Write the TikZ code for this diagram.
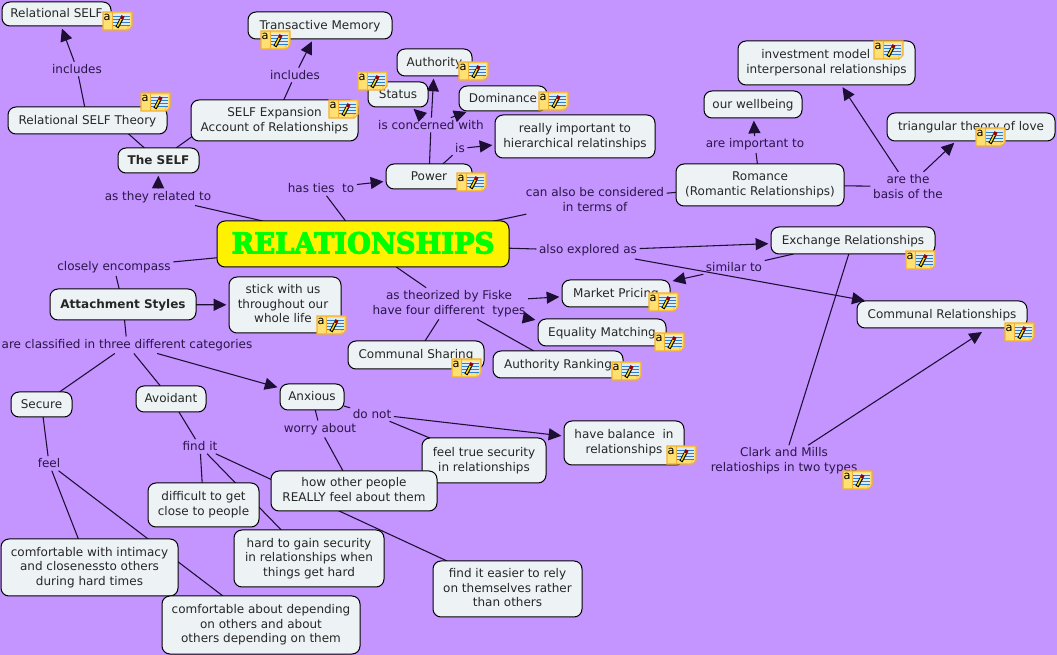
\documentclass[tikz,border=0pt]{standalone}
\usepackage{fontspec}
\usepackage{graphicx}
\setmainfont{DejaVu Sans}
\newfontfamily\relfont[FakeBold=4]{DejaVu Serif Bold}
\usetikzlibrary{arrows.meta,backgrounds,calc}
\definecolor{bgp}{HTML}{C494FF}
\definecolor{boxf}{HTML}{EDF3F5}
\definecolor{lblc}{HTML}{2A1648}
\definecolor{linec}{HTML}{1C0F33}
\definecolor{noteyel}{HTML}{FFE070}
\definecolor{noteedge}{HTML}{F2B032}
\definecolor{notefold}{HTML}{FFF0B0}
\definecolor{noteblue}{HTML}{2F7FC8}
\definecolor{notepage}{HTML}{DCEBF5}
\tikzset{
  x=0.75pt,y=-0.75pt,
  every node/.style={font=\fontsize{9pt}{11pt}\selectfont,align=center},
  sz/.style 2 args={minimum width=#1*0.75pt,minimum height=#2*0.75pt},
  box/.style={draw=black,line width=0.75pt,fill=boxf,rounded corners=6pt,inner sep=0pt,outer sep=0pt,text=black!85,
    execute at begin node={\rule{0pt}{8pt}},execute at end node={\rule[-2pt]{0pt}{2pt}}},
  mbox/.style={box,execute at begin node={\rule{0pt}{10.5pt}}},
  lbl/.style={inner sep=0.5pt,outer sep=1.5pt,text=lblc},
  ln/.style={draw=linec,line width=0.8pt},
  arr/.style={ln,-{Triangle[length=9.5pt,width=9pt]},shorten >=2pt},
  pics/note/.style={code={
    \fill[fill=noteyel,draw=noteedge,line width=0.9pt] (0,0)--(29,0)--(29,14)--(25,18)--(0,18)--cycle;
    \fill[fill=notefold,draw=noteedge,line width=0.4pt] (25,18)--(25,14)--(29,14)--cycle;
    \draw[noteedge,line width=0.4pt] (9,0)--(9,18);
    \fill[fill=notepage] (10,2.5) rectangle (27,14);
    \foreach \yy in {4,7,10,13}{\draw[noteblue,line width=0.6pt] (10,\yy)--(27,\yy);}
    \draw[black,line width=2.6pt] (14,15.5)--(18.5,7);
    \draw[yellow!80!orange,line width=1.1pt] (14.4,14.5)--(18.3,7);
    \draw[red!60!black,line width=2.6pt] (18.5,7)--(20,4);
    \node[inner sep=0pt,font=\fontsize{8.5pt}{9pt}\selectfont,text=black] (-a) at (4,5.5) {a};
  }},
}
\begin{document}
\begin{tikzpicture}
\useasboundingbox (0,0) rectangle (1057,655);
% concepts
\node[box,sz={109}{24}] (rself) at (56.5,14) {Relational SELF};
\node[box,sz={144}{27}] (trans) at (320,25.5) {Transactive Memory};
\node[box,sz={159}{27}] (rtheory) at (87.5,120.5) {Relational SELF Theory};
\node[mbox,sz={167}{41}] (selfexp) at (274.5,120.5) {SELF Expansion\\Account of Relationships};
\node[box,sz={81}{25}] (theself) at (158.5,160.5) {\textbf{The SELF}};
\node[box,sz={60}{25}] (status) at (398,94.5) {Status};
\node[box,sz={75}{27}] (authority) at (434.5,62.5) {Authority};
\node[box,sz={88}{25}] (dominance) at (503,98.5) {Dominance};
\node[mbox,sz={160}{43}] (really) at (575,136.5) {really important to\\hierarchical relatinships};
\node[box,sz={86}{25}] (power) at (429,176.5) {Power};
\node[box,sz={98}{27}] (wellb) at (753,104.5) {our wellbeing};
\node[mbox,sz={177}{44}] (invest) at (826.5,63) {investment model\rule{16pt}{0pt}\\interpersonal relationships};
\node[box,sz={168}{28}] (triang) at (971,127) {triangular theory of love};
\node[mbox,sz={168}{42}] (romance) at (760,185) {Romance\\(Romantic Relationships)};
\node[box,sz={292}{46},fill=yellow,execute at begin node={},execute at end node={}] (rel) at (363,244) {\resizebox{197pt}{16pt}{\color{green}\relfont RELATIONSHIPS}};
\node[box,sz={164}{27}] (exch) at (853,240.5) {Exchange Relationships};
\node[box,sz={170}{27}] (commrel) at (942,314.5) {Communal Relationships};
\node[box,sz={108}{27}] (market) at (616,293.5) {Market Pricing};
\node[box,sz={128}{27}] (equality) at (602,332.5) {Equality Matching};
\node[box,sz={136}{28}] (commsh) at (416,355) {Communal Sharing};
\node[box,sz={130}{27}] (authrank) at (558,364.5) {Authority Ranking};
\node[box,sz={146}{31}] (attach) at (123,304.5) {\textbf{Attachment Styles}};
\node[mbox,sz={112}{56}] (stick) at (285,305) {stick with us\rule{3pt}{0pt}\\throughout our\rule{3pt}{0pt}\\whole life\rule{3pt}{0pt}};
\node[box,sz={61}{25}] (secure) at (41.5,404.5) {Secure};
\node[box,sz={70}{26}] (avoid) at (171,399) {Avoidant};
\node[box,sz={64}{26}] (anx) at (312,397) {Anxious};
\node[mbox,sz={124}{45}] (feelt) at (484,460.5) {feel true security\\in relationships};
\node[mbox,sz={120}{44}] (balance) at (624,443) {have balance\ \ in\\relationships};
\node[mbox,sz={166}{40}] (howo) at (354,491) {how other people\\REALLY feel about them};
\node[mbox,sz={111}{44}] (diff) at (203.5,505) {difficult to get\\close to people};
\node[mbox,sz={150}{57}] (hard) at (309,558.5) {hard to gain security\\in relationships when\\things get hard};
\node[mbox,sz={149}{56}] (easier) at (507.5,589) {find it easier to rely\\on themselves rather\\than others};
\node[mbox,sz={177}{57}] (cint) at (89.5,567.5) {comfortable with intimacy\\and closenessto others\\during hard times};
\node[mbox,sz={198}{58}] (cabout) at (261,625) {comfortable about depending\\on others and about\\others depending on them};
% linking phrases
\node[lbl] (l1) at (77,69) {includes};
\node[lbl] (l2) at (295,75) {includes};
\node[lbl] (l3) at (158,197) {as they related to};
\node[lbl] (l4) at (321,188.5) {has ties\ \ to};
\node[lbl] (l5) at (431,125) {is concerned with};
\node[lbl] (l6) at (460,148.5) {is};
\node[lbl] (l7) at (595,199.5) {can also be considered\\in terms of};
\node[lbl] (l8) at (755,144.5) {are important to};
\node[lbl] (l9) at (908,186.5) {are the\\basis of the};
\node[lbl] (l10) at (588,250.5) {also explored as};
\node[lbl] (l11) at (734,267.5) {similar to};
\node[lbl] (l12) at (449,303.5) {as theorized by Fiske\\have four different\ \ types};
\node[lbl] (l13) at (114,267.5) {closely encompass};
\node[lbl] (l14) at (127,345) {are classified in three different categories};
\node[lbl] (l15) at (372,414) {do not};
\node[lbl] (l16) at (320,429) {worry about};
\node[lbl] (l17) at (200,446.5) {find it};
\node[lbl] (l18) at (49,463.5) {feel};
\node[lbl] (l19) at (784,461) {Clark and Mills\\relatioships in two types};
% connectors
\begin{scope}[on background layer]
\fill[bgp] (0,0) rectangle (1057,655);
\draw[ln] (rtheory) -- (l1);
\draw[arr] (l1) -- (rself);
\draw[ln] (selfexp) -- (l2);
\draw[arr] (l2) -- (trans);
\draw[ln] ($(rtheory)+(26,0)$) -- (theself);
\draw[ln] ($(selfexp)+(-64,3)$) -- (theself);
\draw[ln] (rel) -- (l3);
\draw[arr] (l3) -- (theself);
\draw[ln] (rel) -- (l4);
\draw[arr] (l4) -- (power);
\draw[ln] (power) -- (l5);
\draw[arr] (l5) -- (authority);
\draw[arr] (l5) -- (status);
\draw[arr] (l5) -- (dominance);
\draw[ln] (power) -- (l6);
\draw[arr] (l6) -- (really);
\draw[ln] ($(rel)+(0,5)$) -- (l7);
\draw[ln] (l7) -- (romance);
\draw[ln] (romance) -- (l8);
\draw[arr] (l8) -- (wellb);
\draw[ln] (romance) -- (l9);
\draw[arr] (l9) -- (invest);
\draw[arr] (l9) -- (triang);
\draw[ln] (rel) -- (l10);
\draw[arr] (l10) -- (exch);
\draw[arr] (l10) -- (commrel);
\draw[ln] (exch) -- (l11);
\draw[arr] (l11) -- (market);
\draw[ln] (rel) -- (l12);
\draw[arr] (l12) -- (market);
\draw[arr] (l12) -- (equality);
\draw[ln] (l12) -- (commsh);
\draw[ln] (l12) -- (authrank);
\draw[ln] (rel) -- (l13);
\draw[ln] (l13) -- (attach);
\draw[arr] (attach) -- (stick);
\draw[ln] (attach) -- (l14);
\draw[ln] (l14) -- (secure);
\draw[ln] (l14) -- (avoid);
\draw[arr] (l14) -- (anx);
\draw[ln] (anx) -- (l15);
\draw[arr] (l15) -- (balance);
\draw[ln] (l15) -- (feelt);
\draw[ln] (anx) -- (l16);
\draw[ln] (l16) -- (howo);
\draw[ln] (avoid) -- (l17);
\draw[ln] (l17) -- (diff);
\draw[ln] (l17) -- (hard);
\draw[ln] (l17) -- (easier);
\draw[ln] (secure) -- (l18);
\draw[ln] (l18) -- (cint);
\draw[ln] (l18) -- (cabout);
\draw[ln] (l19) -- (exch);
\draw[arr,shorten >=0pt] (l19) -- ($(commrel.south)+(40,4)$);
\end{scope}
% note icons
\pic (n1) at (103,12) {note};
\pic (n2) at (261,31) {note};
\pic (n3) at (141,93) {note};
\pic (n4) at (329,100) {note};
\pic (n5) at (358,72) {note};
\pic (n6) at (459,62) {note};
\pic (n7) at (539,92) {note};
\pic (n8) at (457,173) {note};
\pic (n9) at (874,41) {note};
\pic (n10) at (976,128) {note};
\pic (n11) at (906,251) {note};
\pic (n12) at (649,293) {note};
\pic (n13) at (655,333) {note};
\pic (n14) at (452,359) {note};
\pic (n15) at (612,362) {note};
\pic (n16) at (1005,323) {note};
\pic (n17) at (317,316) {note};
\pic (n18) at (667,446) {note};
\pic (n19) at (843,471) {note};
\end{tikzpicture}
\end{document}
